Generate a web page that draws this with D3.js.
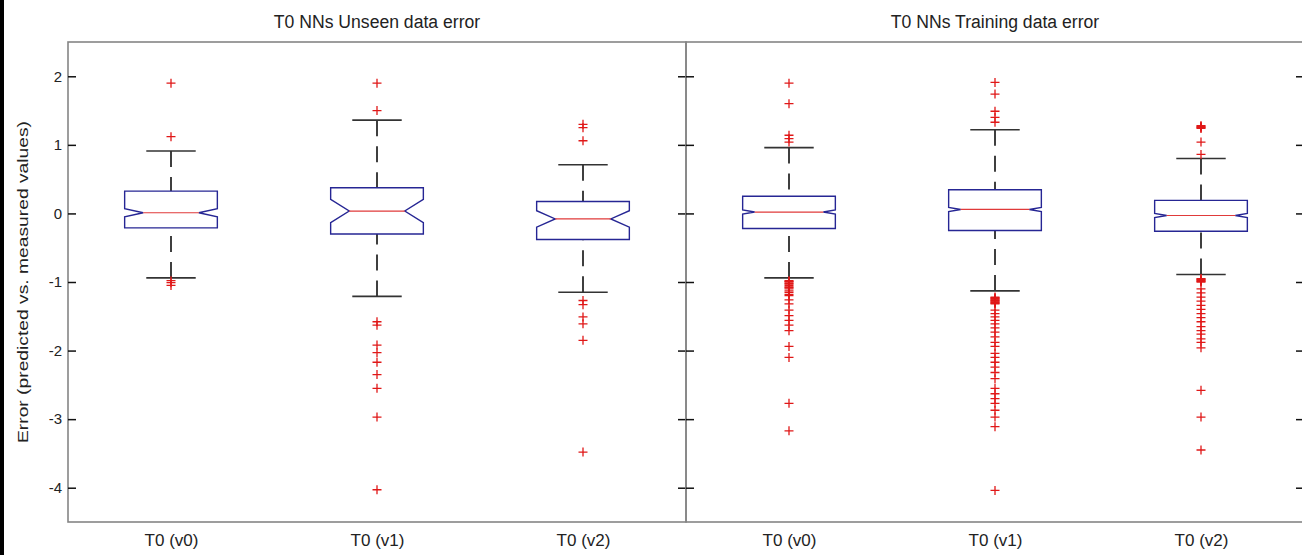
<!DOCTYPE html>
<html>
<head>
<meta charset="utf-8">
<script src="https://cdn.jsdelivr.net/npm/d3@7"></script>
<style>
  html, body { margin: 0; padding: 0; background: #fff; }
  svg { display: block; font-family: "Liberation Sans", Arial, sans-serif; }
</style>
</head>
<body>
<svg id="chart" width="1302" height="555"></svg>
<script>
// ---- data ----
const categories = ["T0 (v0)", "T0 (v1)", "T0 (v2)"];
const panelTitles = ["T0 NNs Unseen data error", "T0 NNs Training data error"];
const yTicks = [-4, -3, -2, -1, 0, 1, 2];
const yLabel = "Error (predicted vs. measured values)";

// unseen data
const unseenQ1 = [-0.21, -0.30, -0.38];
const unseenMedian = [0.01, 0.035, -0.08];
const unseenQ3 = [0.325, 0.375, 0.175];
const unseenLower = [-0.94, -1.21, -1.15];
const unseenUpper = [0.91, 1.36, 0.71];
const unseenNotch = [0.06, 0.17, 0.12];
const unseenOutliers = [
  [1.90, 1.12, -0.98, -1.01, -1.05],
  [1.90, 1.50, -1.58, -1.63, -1.92, -2.03, -2.17, -2.35, -2.55, -2.97, -4.03],
  [1.30, 1.25, 1.06, -1.27, -1.33, -1.51, -1.61, -1.85, -3.48]
];

// training data
const trainQ1 = [-0.22, -0.25, -0.26];
const trainMedian = [0.02, 0.058, -0.03];
const trainQ3 = [0.25, 0.345, 0.19];
const trainLower = [-0.94, -1.13, -0.89];
const trainUpper = [0.96, 1.22, 0.80];
const trainNotch = [0.03, 0.03, 0.03];
const trainOutliers = [
  [1.90, 1.60, 1.14, 1.09, 1.04,
   -0.98, -0.99, -1.00, -1.02, -1.03, -1.05, -1.07, -1.08, -1.10, -1.13, -1.15, -1.18, -1.20,
   -1.26, -1.32, -1.41, -1.49, -1.56, -1.63, -1.71, -1.94, -2.10, -2.77, -3.17],
  [1.91, 1.74, 1.49, 1.40, 1.33,
   -1.22, -1.23, -1.24, -1.25, -1.26, -1.27, -1.28, -1.29, -1.30, -1.31, -1.32,
   -1.41, -1.46, -1.51, -1.56, -1.61, -1.67, -1.73, -1.80, -1.88, -1.94, -2.04, -2.10,
   -2.17, -2.24, -2.32, -2.41, -2.55, -2.63, -2.70, -2.77, -2.87, -2.97, -3.11, -4.04],
  [1.28, 1.27, 1.26, 1.25, 1.24, 1.04, 0.86,
   -0.95, -0.96, -0.97, -0.98, -0.99, -1.00, -1.10, -1.16, -1.22, -1.28, -1.34, -1.40, -1.46,
   -1.52, -1.58, -1.65, -1.71, -1.76, -1.83, -1.88, -1.96, -2.58, -2.97, -3.45]
];

// ---- layout ----
const svg = d3.select("#chart");
const plotTop = 42, plotBottom = 522;
const panels = [
  { x0: 68, x1: 686, title: panelTitles[0], q1: unseenQ1, med: unseenMedian, q3: unseenQ3,
    lo: unseenLower, hi: unseenUpper, notch: unseenNotch, out: unseenOutliers, notchDepth: 0.4, labels: true },
  { x0: 686, x1: 1304, title: panelTitles[1], q1: trainQ1, med: trainMedian, q3: trainQ3,
    lo: trainLower, hi: trainUpper, notch: trainNotch, out: trainOutliers, notchDepth: 0.26, labels: false }
];

const y = d3.scaleLinear().domain([-4.5, 2.5]).range([plotBottom, plotTop]);

const boxColor = "#262694", medColor = "#e03a3a", outColor = "#e01818", frameColor = "#858585";
const boxHalf = 0.225, capHalf = 0.12;

// black strip at the left edge of the figure
svg.append("rect").attr("x", 0).attr("y", 0).attr("width", 4).attr("height", 555).attr("fill", "#000");

panels.forEach(function(p) {
  const x = d3.scaleLinear().domain([0.5, 3.5]).range([p.x0, p.x1]);
  const g = svg.append("g");

  // frame
  g.append("rect").attr("x", p.x0).attr("y", plotTop).attr("width", p.x1 - p.x0).attr("height", plotBottom - plotTop)
    .attr("fill", "none").attr("stroke", frameColor).attr("stroke-width", 1.6);

  // y ticks, inward on both sides
  const left = g.append("g").attr("transform", `translate(${p.x0},0)`)
    .call(d3.axisLeft(y).tickValues(yTicks).tickSize(-8).tickPadding(6));
  const right = g.append("g").attr("transform", `translate(${p.x1},0)`)
    .call(d3.axisRight(y).tickValues(yTicks).tickSize(-8));
  [left, right].forEach(a => {
    a.select(".domain").remove();
    a.selectAll(".tick line").attr("stroke", "#111").attr("stroke-width", 1.5);
    a.selectAll(".tick text").attr("font-size", 15).attr("fill", "#222");
  });
  left.selectAll(".tick text").text(d => p.labels ? String(d) : "");
  right.selectAll(".tick text").text("");

  // x tick labels
  const xa = g.append("g").attr("transform", `translate(0,${plotBottom})`)
    .call(d3.axisBottom(x).tickValues([1, 2, 3]).tickSize(0).tickPadding(12).tickFormat((d, i) => categories[i]));
  xa.select(".domain").remove();
  xa.selectAll(".tick text").attr("font-size", 17).attr("fill", "#222");

  // title
  g.append("text").attr("x", (p.x0 + p.x1) / 2).attr("y", 28).attr("text-anchor", "middle")
    .attr("font-size", 17.6).attr("fill", "#222").text(p.title);

  const idx = d3.range(categories.length);
  const bw = x(1 + boxHalf) - x(1);
  const cw = x(1 + capHalf) - x(1);
  const nd = bw * p.notchDepth;

  // whiskers (dashed) and caps
  idx.forEach(function(i) {
    const cx = x(i + 1);
    g.append("line").attr("x1", cx).attr("x2", cx).attr("y1", y(p.hi[i])).attr("y2", y(p.q3[i]))
      .attr("stroke", "#000").attr("stroke-width", 1.5).attr("stroke-dasharray", "16,10");
    g.append("line").attr("x1", cx).attr("x2", cx).attr("y1", y(p.lo[i])).attr("y2", y(p.q1[i]))
      .attr("stroke", "#000").attr("stroke-width", 1.5).attr("stroke-dasharray", "16,10");
    [p.hi[i], p.lo[i]].forEach(v => {
      g.append("line").attr("x1", cx - cw).attr("x2", cx + cw).attr("y1", y(v)).attr("y2", y(v))
        .attr("stroke", "#333").attr("stroke-width", 1.6);
    });
  });

  // notched boxes
  g.selectAll("path.box").data(idx).join("path").attr("class", "box")
    .attr("fill", "#fff").attr("stroke", boxColor).attr("stroke-width", 1.4)
    .attr("d", function(i) {
      const cx = x(i + 1), xl = cx - bw, xr = cx + bw;
      const ym = y(p.med[i]), yu = y(p.med[i] + p.notch[i]), yd = y(p.med[i] - p.notch[i]);
      return d3.line()([
        [xl, y(p.q3[i])], [xr, y(p.q3[i])], [xr, yu], [xr - nd, ym], [xr, yd], [xr, y(p.q1[i])],
        [xl, y(p.q1[i])], [xl, yd], [xl + nd, ym], [xl, yu]
      ]) + "Z";
    });

  // medians
  g.selectAll("line.med").data(idx).join("line").attr("class", "med")
    .attr("x1", i => x(i + 1) - bw + nd).attr("x2", i => x(i + 1) + bw - nd)
    .attr("y1", i => y(p.med[i])).attr("y2", i => y(p.med[i]))
    .attr("stroke", medColor).attr("stroke-width", 1.2);

  // outliers as '+'
  const pts = [];
  idx.forEach(i => p.out[i].forEach(v => pts.push({ i: i, v: v })));
  const s = 4.5;
  g.selectAll("path.out").data(pts).join("path").attr("class", "out")
    .attr("d", d => {
      const cx = x(d.i + 1), cy = y(d.v);
      return `M${cx - s},${cy}H${cx + s}M${cx},${cy - s}V${cy + s}`;
    })
    .attr("stroke", outColor).attr("stroke-width", 1.3).attr("fill", "none");
});

// y label
svg.append("text").attr("transform", `translate(28,${(plotTop + plotBottom) / 2}) rotate(-90)`)
  .attr("text-anchor", "middle").attr("font-size", 15).attr("fill", "#222")
  .attr("textLength", 322).attr("lengthAdjust", "spacingAndGlyphs").text(yLabel);
</script>
</body>
</html>
